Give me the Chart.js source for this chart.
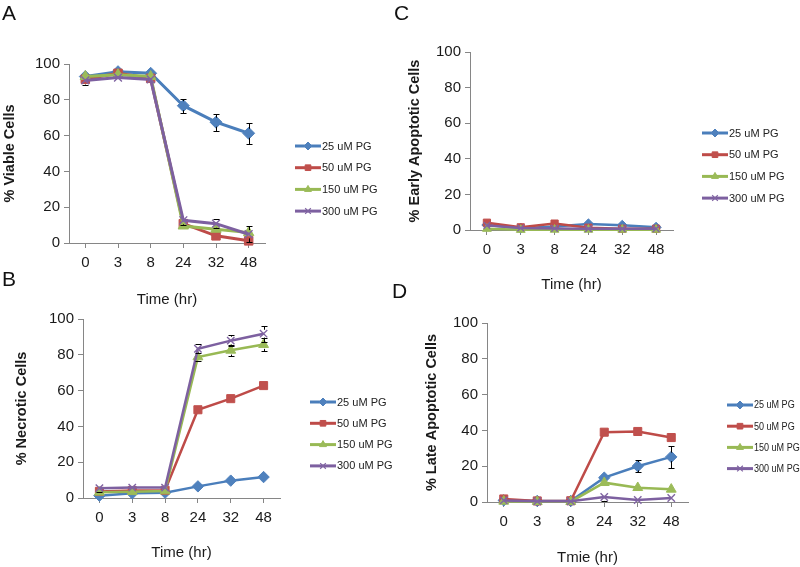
<!DOCTYPE html>
<html>
<head>
<meta charset="utf-8">
<script src="https://cdn.jsdelivr.net/npm/chart.js@4/dist/chart.umd.min.js"></script>
<style>
  html, body { margin: 0; padding: 0; background: #fff; }
  #page { position: relative; width: 800px; height: 567px; overflow: hidden; }
  .panel { position: absolute; }
  .letter { position: absolute; font: 21px "Liberation Sans", Arial, sans-serif; color: #111; }
</style>
</head>
<body>
<div id="page">
  <div class="panel" style="left:0px;top:0px;width:400px;height:309px"><canvas id="chartA" width="400" height="309"></canvas></div>
  <div class="panel" style="left:400px;top:0px;width:400px;height:294px"><canvas id="chartC" width="400" height="294"></canvas></div>
  <div class="panel" style="left:0px;top:270px;width:400px;height:292px"><canvas id="chartB" width="400" height="292"></canvas></div>
  <div class="panel" style="left:400px;top:275px;width:400px;height:292px"><canvas id="chartD" width="400" height="292"></canvas></div>
  <div class="letter" style="left:2px;top:1px">A</div>
  <div class="letter" style="left:394px;top:1px">C</div>
  <div class="letter" style="left:2px;top:267px">B</div>
  <div class="letter" style="left:392px;top:279px">D</div>
</div>
<script>
// Data
const timeLabels = ['0', '3', '8', '24', '32', '48'];
const doseLabels = ['25 uM PG', '50 uM PG', '150 uM PG', '300 uM PG'];

// rows: 25, 50, 150, 300 uM PG
const viableCells = [
    [93, 95.7, 94.8, 76.7, 67.5, 61.3],
    [91.5, 94.8, 92, 10.8, 4, 1.2],
    [93, 94, 93, 9.5, 7.7, 5.8],
    [90.8, 92.4, 91.4, 12.7, 10.8, 4.9]
];
const viableErr = [
    [2, 1.5, 1.5, 3.8, 4.8, 6],
    [1.5, 1.5, 1.5, 1.5, 1, 1],
    [1.5, 1, 1, 1, 1, 1.5],
    [2.5, 1.5, 1.5, 2.5, 2.5, 4.5]
];
const necroticCells = [
    [1.3, 2.6, 3, 6.5, 9.7, 11.7],
    [3.7, 4.2, 4.3, 49.3, 55.5, 62.8],
    [3.2, 3.5, 3.9, 78.8, 82.5, 85.7],
    [5.5, 5.8, 5.8, 83.4, 87.9, 91.8]
];
const necroticErr = [
    [0.5, 0.5, 0.5, 0.5, 0.5, 0.5],
    [0.5, 0.5, 0.5, 0.5, 0.5, 0.5],
    [1.5, 1, 1, 2, 3, 3.5],
    [2, 2, 2, 2.5, 3, 4.5]
];
const earlyApop = [
    [2.8, 1, 1.9, 3.4, 2.6, 1.5],
    [4.1, 1.5, 3.6, 1.3, 0.7, 0.7],
    [0.7, 0.1, 0.2, 0.2, 0.2, 0.2],
    [2.6, 1.1, 0.9, 0.7, 0.7, 0.7]
];
const earlyErr = [
    [0.8, 0.5, 0.5, 0.8, 0.8, 0.6],
    [0.8, 0.5, 0.8, 0.5, 0.4, 0.4],
    [0.4, 0.3, 0.3, 0.3, 0.3, 0.3],
    [0.6, 0.4, 0.4, 0.4, 0.4, 0.4]
];
const lateApop = [
    [0.9, 0.6, 0.6, 13.6, 20, 25.2],
    [1.7, 0.6, 0.7, 39, 39.4, 36],
    [0.4, 0.2, 0.2, 10.8, 8, 7.1],
    [0.9, 0.4, 0.4, 2.8, 1.1, 2.2]
];
const lateErr = [
    [0.5, 0.3, 0.3, 1.5, 3.5, 6],
    [0.5, 0.3, 0.3, 1, 1, 1],
    [0.3, 0.3, 0.3, 1, 1, 1.5],
    [0.5, 0.3, 0.3, 2, 1.5, 1.5]
];

const lineColors = ['#4A7EBB', '#BE4B48', '#98B954', '#7D60A0'];
const fillColors = ['#4F81BD', '#C0504D', '#9BBB59', '#8064A2'];
const markers = ['rectRot', 'rect', 'triangle', 'crossRot'];
const markerSize = [6, 6, 6, 5.5];

const axisGray = '#868686';
const tickFont = { family: '"Liberation Sans", Arial, sans-serif', size: 15 };
const titleFont = { family: '"Liberation Sans", Arial, sans-serif', size: 14.5, weight: 'bold' };

// black error bars with caps; the part inside a marker is left out
const errorBars = {
    id: 'errorBars',
    afterDatasetsDraw(chart) {
        const ctx = chart.ctx;
        const yScale = chart.scales.y;
        ctx.save();
        ctx.strokeStyle = '#000';
        ctx.lineWidth = 1;
        chart.data.datasets.forEach((ds, i) => {
            const meta = chart.getDatasetMeta(i);
            meta.data.forEach((pt, j) => {
                const e = ds.errors[j];
                if (!e) return;
                const v = ds.data[j];
                const top = Math.round(yScale.getPixelForValue(v + e)) + 0.5;
                const bot = Math.round(yScale.getPixelForValue(Math.max(0, v - e))) + 0.5;
                const x = Math.round(pt.x) + 0.5;
                const r = pt.options.radius * 0.75;
                ctx.beginPath();
                if (top < pt.y - r) {
                    ctx.moveTo(x, top); ctx.lineTo(x, pt.y - r);
                    ctx.moveTo(x - 3, top); ctx.lineTo(x + 3, top);
                }
                if (bot > pt.y + r) {
                    ctx.moveTo(x, pt.y + r); ctx.lineTo(x, bot);
                    ctx.moveTo(x - 3, bot); ctx.lineTo(x + 3, bot);
                }
                ctx.stroke();
            });
        });
        ctx.restore();
    }
};

// Excel style legend: line with marker, then label
const lineLegend = {
    id: 'lineLegend',
    afterDraw(chart, args, opts) {
        const ctx = chart.ctx;
        ctx.save();
        chart.data.datasets.forEach((ds, i) => {
            const y = opts.y + i * opts.gap;
            ctx.strokeStyle = ds.borderColor;
            ctx.lineWidth = 3;
            ctx.beginPath();
            ctx.moveTo(opts.x, y);
            ctx.lineTo(opts.x + 26, y);
            ctx.stroke();
            ctx.fillStyle = ds.pointBackgroundColor;
            ctx.strokeStyle = ds.pointBorderColor;
            ctx.lineWidth = ds.pointStyle === 'crossRot' ? 1.2 : 1;
            Chart.helpers.drawPoint(ctx, { pointStyle: ds.pointStyle, rotation: 0, radius: 4, borderWidth: 1 }, opts.x + 13, y);
            ctx.fillStyle = '#222';
            ctx.font = opts.fontSize + 'px "Liberation Sans", Arial, sans-serif';
            ctx.textBaseline = 'middle';
            ctx.textAlign = 'left';
            ctx.save();
            ctx.translate(opts.x + 27, y + 0.5);
            ctx.scale(opts.squeeze || 1, 1);
            ctx.fillText(ds.label, 0, 0);
            ctx.restore();
        });
        ctx.restore();
    }
};

function makePanel(id, values, errors, o) {
    const datasets = values.map((vals, i) => ({
        label: doseLabels[i],
        data: vals,
        errors: errors[i],
        borderColor: lineColors[i],
        backgroundColor: fillColors[i],
        borderWidth: o.lineWidth,
        pointStyle: markers[i],
        pointRadius: markerSize[i] * o.markerScale,
        pointBackgroundColor: fillColors[i],
        pointBorderColor: fillColors[i],
        pointBorderWidth: markers[i] === 'crossRot' ? 1.4 : 1,
        tension: 0,
        clip: false,
        order: 4 - i
    }));

    new Chart(document.getElementById(id), {
        type: 'line',
        data: { labels: timeLabels, datasets: datasets },
        plugins: [errorBars, lineLegend],
        options: {
            responsive: false,
            animation: false,
            events: [],
            layout: { padding: { left: 0, top: o.padTop, right: o.padRight, bottom: 0 } },
            plugins: {
                legend: { display: false },
                tooltip: { enabled: false },
                lineLegend: o.legend
            },
            scales: {
                x: {
                    offset: true,
                    grid: { display: true, offset: false, drawOnChartArea: false, drawTicks: true, tickLength: 5, color: axisGray },
                    border: { display: true, color: axisGray, width: 1 },
                    ticks: { color: '#1a1a1a', font: tickFont, padding: 6, maxRotation: 0 },
                    title: { display: true, text: o.xTitle, color: '#1a1a1a', font: { family: tickFont.family, size: 15 }, padding: 0 },
                    afterFit: s => { s.height = o.xHeight; }
                },
                y: {
                    min: 0,
                    max: 100,
                    grid: { display: true, drawOnChartArea: false, drawTicks: true, tickLength: 5, color: axisGray },
                    border: { display: true, color: axisGray, width: 1 },
                    ticks: { stepSize: 20, color: '#1a1a1a', font: tickFont, padding: 4 },
                    title: { display: true, text: o.yTitle, color: '#1a1a1a', font: titleFont, padding: { top: o.yTitlePad, bottom: 0 } },
                    afterFit: s => { s.width = o.yWidth; }
                }
            }
        }
    });
}

makePanel('chartA', viableCells, viableErr, {
    xTitle: 'Time (hr)', yTitle: '% Viable Cells',
    padTop: 64, padRight: 135, yWidth: 69, xHeight: 66, yTitlePad: 1,
    lineWidth: 3, markerScale: 1,
    legend: { x: 295, y: 146, gap: 21.7, fontSize: 11 }
});
makePanel('chartC', earlyApop, earlyErr, {
    xTitle: 'Time (hr)', yTitle: '% Early Apoptotic Cells',
    padTop: 52, padRight: 127, yWidth: 70, xHeight: 64, yTitlePad: 6,
    lineWidth: 2.5, markerScale: 0.85,
    legend: { x: 302, y: 133, gap: 21.7, fontSize: 11 }
});
makePanel('chartB', necroticCells, necroticErr, {
    xTitle: 'Time (hr)', yTitle: '% Necrotic Cells',
    padTop: 49, padRight: 120, yWidth: 83, xHeight: 64, yTitlePad: 13,
    lineWidth: 2.5, markerScale: 0.95,
    legend: { x: 310, y: 132, gap: 21.3, fontSize: 11 }
});
makePanel('chartD', lateApop, lateErr, {
    xTitle: 'Tmie (hr)', yTitle: '% Late Apoptotic Cells',
    padTop: 48, padRight: 112, yWidth: 87, xHeight: 65, yTitlePad: 23,
    lineWidth: 2.5, markerScale: 0.95,
    legend: { x: 327, y: 130, gap: 21.2, fontSize: 10.5, squeeze: 0.86 }
});
</script>
</body>
</html>
